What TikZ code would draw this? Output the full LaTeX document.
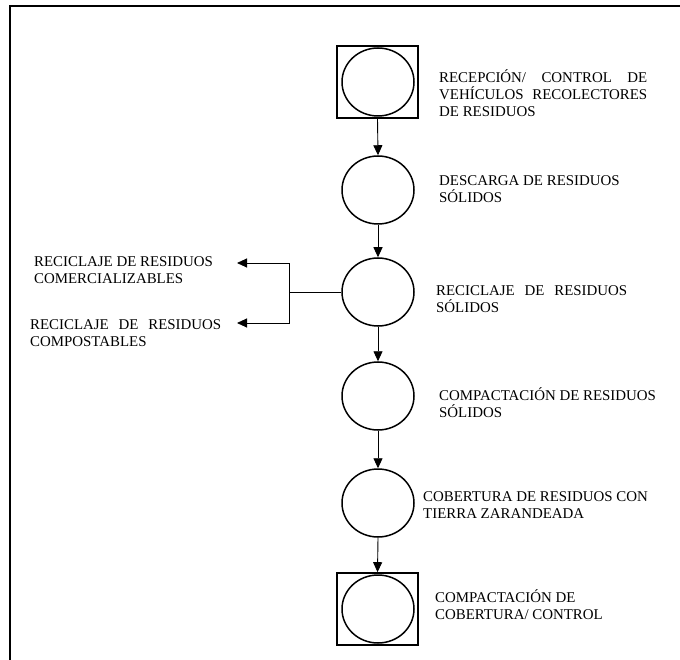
\documentclass[tikz,border=0pt]{standalone}
\usepackage{fontspec}
\setmainfont{Liberation Serif}
\usetikzlibrary{shapes.geometric,arrows.meta}
\tikzset{
  stage/.style={ellipse,draw,line width=1.5pt,minimum width=72pt,minimum height=68pt,inner sep=0pt},
  frame box/.style={rectangle,draw,line width=1.6pt,minimum width=81pt,minimum height=72pt,inner sep=0pt},
  flow/.style={-{Triangle[length=10pt,width=9pt]},line width=0.9pt},
  link/.style={line width=0.9pt},
  label/.style={anchor=west,inner sep=0pt,align=left,font=\fontsize{14.9}{17}\selectfont}
}
\begin{document}
\begin{tikzpicture}[x=1pt,y=-1pt]
\useasboundingbox (0,0) rectangle (680,660);
% frame
\draw[line width=1.8pt] (10,660) -- (10,6) -- (680,6);
% stages
\node[frame box] (b1) at (377.5,82) {};
\node[stage] (c1) at (378,82) {};
\node[stage] (c2) at (378,190) {};
\node[stage] (c3) at (378,292) {};
\node[stage] (c4) at (378,396) {};
\node[stage] (c5) at (378,503) {};
\node[frame box] (b6) at (377.5,609) {};
\node[stage] (c6) at (378,609) {};
% flow arrows
\draw[flow] (b1.south) -- (c2.north);
\draw[flow] (c2.south) -- (c3.north);
\draw[flow] (c3.south) -- (c4.north);
\draw[flow] (c4.south) -- (c5.north);
\draw[flow] (c5.south) -- (b6.north);
% branch
\coordinate (j) at (289,292);
\coordinate (t1) at (237,263);
\coordinate (t2) at (237,323);
\draw[link] (c3.west) -- (j);
\draw[flow] (j) |- (t1);
\draw[flow] (j) |- (t2);
% labels
\node[label] (l1) at (439,93.5) {\makebox[208pt][s]{RECEPCIÓN/ CONTROL DE}\\\makebox[208pt][s]{VEHÍCULOS RECOLECTORES}\\DE RESIDUOS};
\node[label] (l2) at (439,189.5) {DESCARGA DE RESIDUOS\\SÓLIDOS};
\node[label] (l3) at (436,299) {\makebox[191pt][s]{RECICLAJE DE RESIDUOS}\\SÓLIDOS};
\node[label] (l4) at (439,403) {COMPACTACIÓN DE RESIDUOS\\SÓLIDOS};
\node[label] (l5) at (423,505.5) {COBERTURA DE RESIDUOS CON\\TIERRA ZARANDEADA};
\node[label] (l6) at (435,604.5) {COMPACTACIÓN DE\\COBERTURA/ CONTROL};
\node[label] (l7) at (34,270.5) {RECICLAJE DE RESIDUOS\\COMERCIALIZABLES};
\node[label] (l8) at (30,333.5) {\makebox[191pt][s]{RECICLAJE DE RESIDUOS}\\COMPOSTABLES};
\end{tikzpicture}
\end{document}
